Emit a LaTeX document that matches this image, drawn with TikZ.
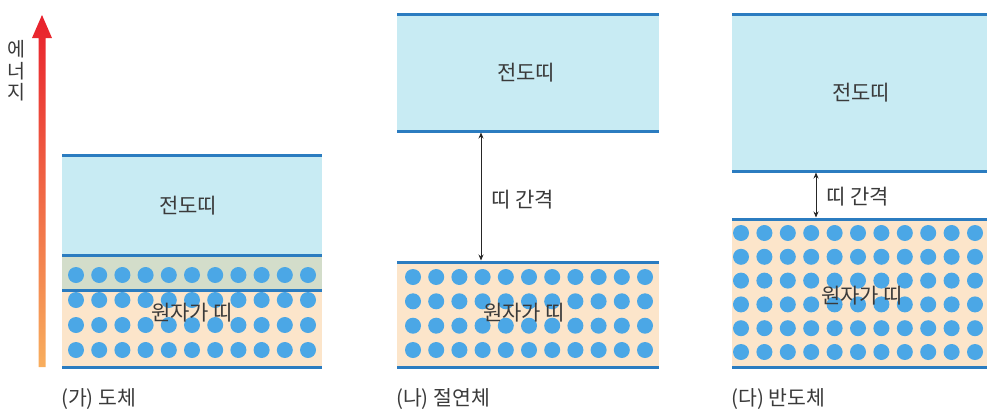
\documentclass[tikz,border=0pt]{standalone}
\usepackage{fontspec}
\setmainfont{Noto Sans CJK KR}
\usetikzlibrary{arrows.meta}
\definecolor{cbfill}{HTML}{C8EBF3}
\definecolor{vbfill}{HTML}{FCE5CA}
\definecolor{mixfill}{HTML}{D3DDCA}
\definecolor{bline}{HTML}{2B7CC0}
\definecolor{dotc}{HTML}{4BA7E6}
\definecolor{txt}{HTML}{3A3A3A}
\definecolor{arrtop}{HTML}{E8202C}
\definecolor{arrmid}{HTML}{F47A42}
\definecolor{arrbot}{HTML}{F8AE5E}
\begin{document}
\begin{tikzpicture}[x=1pt,y=-1pt,
  bandline/.style={draw=bline,line width=3pt},
  atom/.style={fill=dotc},
  lbl/.style={text=txt,font=\fontsize{21}{23}\selectfont,inner sep=0pt},
  captxt/.style={text=txt,font=\fontsize{20.5}{22}\selectfont,inner sep=0pt,anchor=west},
  gaparrow/.style={draw=black!85,line width=0.8pt,{Stealth[length=6pt,width=5pt]}-{Stealth[length=6pt,width=5pt]}}
]
\useasboundingbox (0,0) rectangle (987,413);

% ---------- energy arrow ----------
\shade[top color=arrtop,middle color=arrmid,bottom color=arrbot]
  (38.5,367) -- (38.5,38) -- (32,38) -- (42,15) -- (52,38) -- (45.5,38) -- (45.5,367) -- cycle;
\node[text=txt,font=\fontsize{19.5}{21.5}\selectfont,align=center,inner sep=0pt] (energy) at (16,71) {에\\너\\지};

% ---------- (가) 도체 ----------
\fill[cbfill] (62,155) rectangle (322,255);
\fill[mixfill] (62,255) rectangle (322,290);
\fill[vbfill] (62,290) rectangle (322,367);
\foreach \r in {275,300,325,350}
  \foreach \c in {0,...,10}
    \fill[atom] (76+23.2*\c,\r) circle (8);
\draw[bandline] (62,155) -- (322,155);
\draw[bandline] (62,255) -- (322,255);
\draw[bandline] (62,290) -- (322,290);
\draw[bandline] (62,367) -- (322,367);
\node[lbl] (acb) at (188,206) {전도띠};
\node[lbl] (avb) at (192,313) {원자가 띠};
\node[captxt] (acap) at (61,399) {(가) 도체};

% ---------- (나) 절연체 ----------
\fill[cbfill] (397,14) rectangle (659,131);
\fill[vbfill] (397,262) rectangle (659,367);
\foreach \r in {277,301.3,325.7,350}
  \foreach \c in {0,...,10}
    \fill[atom] (413+23.2*\c,\r) circle (8);
\draw[bandline] (397,14) -- (659,14);
\draw[bandline] (397,131) -- (659,131);
\draw[bandline] (397,262) -- (659,262);
\draw[bandline] (397,367) -- (659,367);
\node[lbl] (bcb) at (526,73) {전도띠};
\node[lbl] (bvb) at (524,313) {원자가 띠};
\coordinate (bgt) at (481,132.5);
\coordinate (bgb) at (481,260.5);
\draw[gaparrow] (bgt) -- (bgb);
\node[lbl,anchor=west] (bgap) at (491,200) {띠 간격};
\node[captxt] (bcap) at (396,399) {(나) 절연체};

% ---------- (다) 반도체 ----------
\fill[cbfill] (732,14) rectangle (987,171);
\fill[vbfill] (732,219) rectangle (987,367);
\foreach \r in {233,256.8,280.6,304.4,328.2,352}
  \foreach \c in {0,...,10}
    \fill[atom] (741+23.4*\c,\r) circle (8);
\draw[bandline] (732,14) -- (987,14);
\draw[bandline] (732,171) -- (987,171);
\draw[bandline] (732,219) -- (987,219);
\draw[bandline] (732,367) -- (987,367);
\node[lbl] (ccb) at (861,93) {전도띠};
\node[lbl] (cvb) at (862,296) {원자가 띠};
\coordinate (cgt) at (816,172.5);
\coordinate (cgb) at (816,217.5);
\draw[gaparrow] (cgt) -- (cgb);
\node[lbl,anchor=west] (cgap) at (826,197) {띠 간격};
\node[captxt] (ccap) at (731,399) {(다) 반도체};
\end{tikzpicture}
\end{document}
